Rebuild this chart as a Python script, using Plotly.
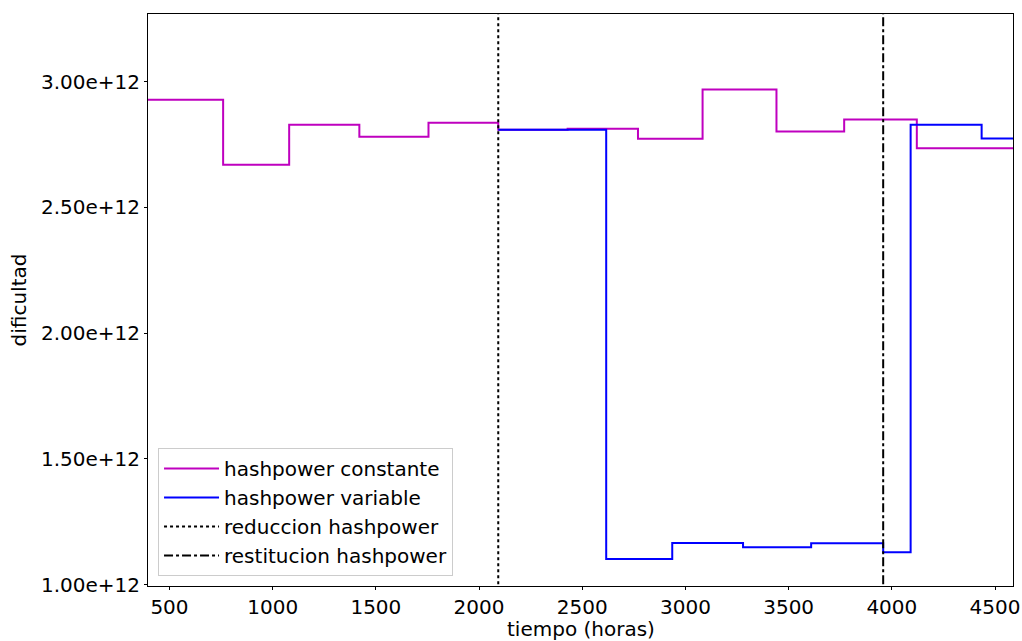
import plotly.graph_objects as go

# Data
t_const = [0, 760, 1080, 1420, 1755, 2093, 2429, 2770, 3083, 3441, 3769, 4121, 4700]
d_const = [2.928e12, 2.670e12, 2.829e12, 2.781e12, 2.837e12, 2.809e12, 2.813e12,
           2.773e12, 2.969e12, 2.802e12, 2.850e12, 2.735e12, 2.735e12]

t_var = [2093, 2616, 2936, 3279, 3609, 3958, 4091, 4435, 4700]
d_var = [2.809e12, 1.102e12, 1.166e12, 1.149e12, 1.165e12, 1.129e12, 2.829e12,
         2.774e12, 2.774e12]

t_reduccion = 2093
t_restitucion = 3958

x_range = [396, 4587]
y_range = [0.995e12, 3.269e12]
x_ticks = [500, 1000, 1500, 2000, 2500, 3000, 3500, 4000, 4500]
y_ticks = [1.0e12, 1.5e12, 2.0e12, 2.5e12, 3.0e12]

FONT = "DejaVu Sans"
FS = 20

fig = go.Figure()
fig.add_trace(go.Scatter(x=t_const, y=d_const, mode="lines", line_shape="hv",
                         line=dict(color="#bf00bf", width=2), name="hashpower constante"))
fig.add_trace(go.Scatter(x=t_var, y=d_var, mode="lines", line_shape="hv",
                         line=dict(color="#0000ff", width=2), name="hashpower variable"))
fig.add_trace(go.Scatter(x=[t_reduccion, t_reduccion], y=[0, 5e12], mode="lines",
                         line=dict(color="black", width=2, dash="dot"), name="reduccion hashpower"))
fig.add_trace(go.Scatter(x=[t_restitucion, t_restitucion], y=[0, 5e12], mode="lines",
                         line=dict(color="black", width=2, dash="dashdot"), name="restitucion hashpower"))

axis_common = dict(showline=True, linecolor="black", linewidth=1, mirror=True,
                   ticks="outside", ticklen=3, tickcolor="black", tickwidth=1,
                   showgrid=False, zeroline=False, automargin=False,
                   tickfont=dict(family=FONT, size=FS, color="black"))

fig.update_xaxes(range=x_range, tickvals=x_ticks, **axis_common)
fig.update_yaxes(range=y_range, tickvals=y_ticks, tickformat=".2e",
                 title=dict(text="dificultad", font=dict(family=FONT, size=FS, color="black"), standoff=8),
                 **axis_common)

fig.add_annotation(text="tiempo (horas)", xref="paper", yref="paper",
                   x=0.5, y=-55 / 572, xanchor="center", yanchor="bottom",
                   yshift=-1, showarrow=False, borderpad=0,
                   font=dict(family=FONT, size=FS, color="black"))

fig.update_layout(
    width=1022, height=641,
    margin=dict(l=148, r=9, t=14, b=55, autoexpand=False),
    plot_bgcolor="white", paper_bgcolor="white",
    font=dict(family=FONT, size=FS, color="black"),
    legend=dict(x=0.0116, y=0.0175, xanchor="left", yanchor="bottom",
                bgcolor="rgba(255,255,255,0.8)", bordercolor="#cccccc", borderwidth=1,
                font=dict(family=FONT, size=FS, color="black"),
                tracegroupgap=0, itemwidth=55),
    showlegend=True,
)

fig.write_html("out.html")
